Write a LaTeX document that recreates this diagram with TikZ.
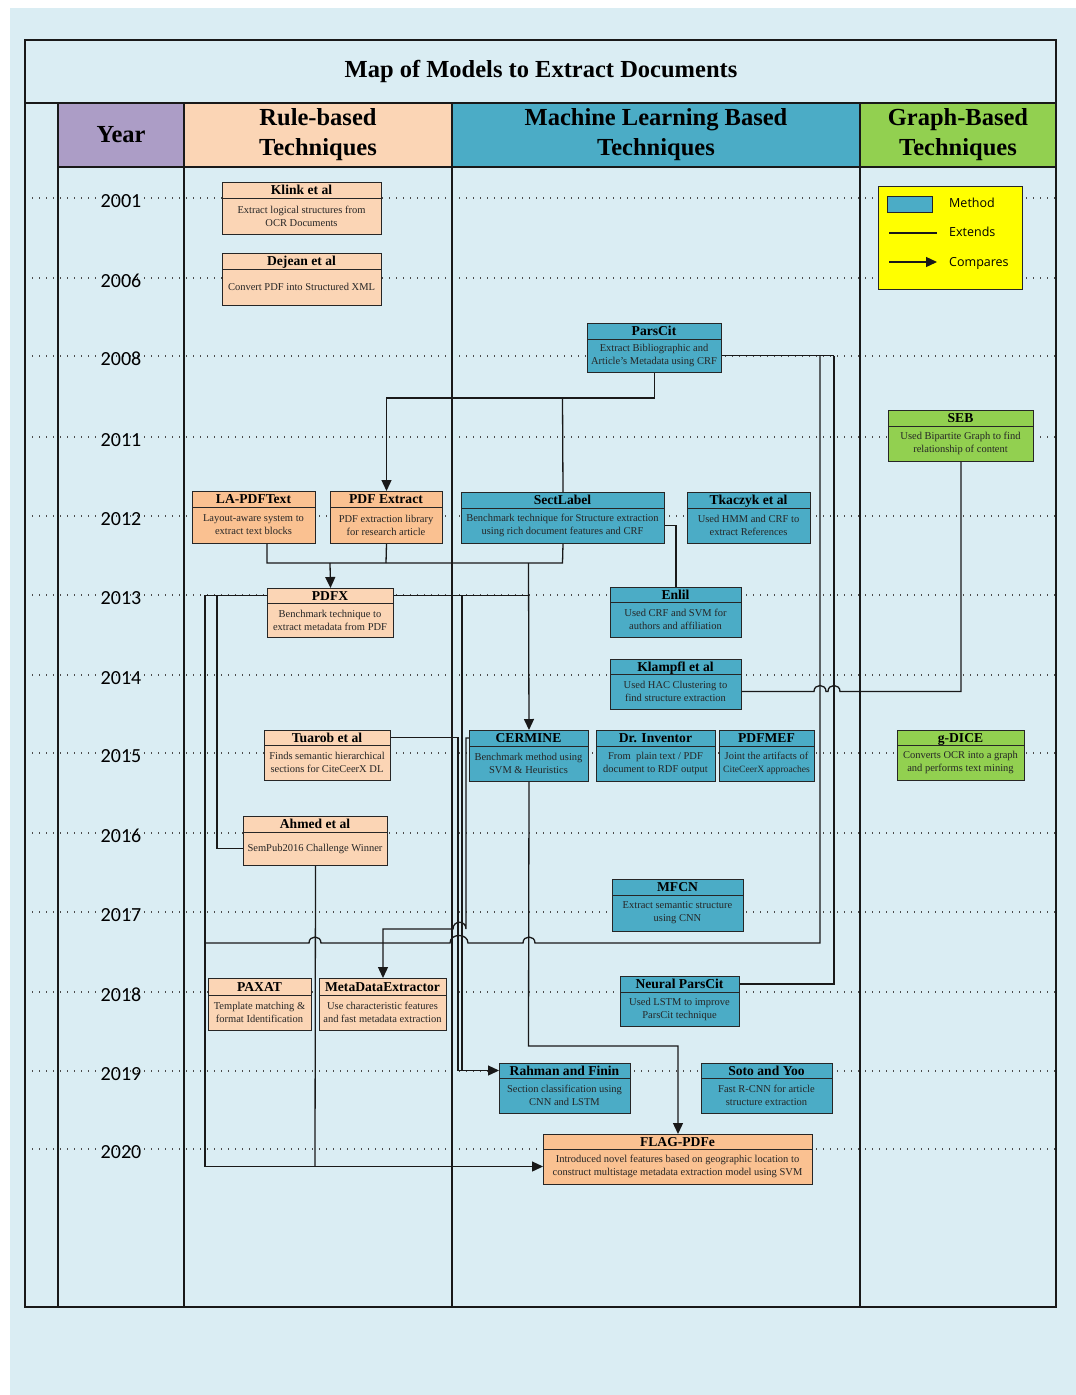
\documentclass[tikz,border=0pt]{standalone}
\usepackage{fontspec}
\setmainfont{Liberation Serif}
\newfontfamily\yearfont{Carlito}
\newfontfamily\legendfont{Open Sans}
\usetikzlibrary{arrows.meta}

\definecolor{bgblue}{HTML}{DAEDF3}
\definecolor{peachlight}{HTML}{FBD5B5}
\definecolor{peachdark}{HTML}{FAC191}
\definecolor{mlteal}{HTML}{4BACC6}
\definecolor{grgreen}{HTML}{92D050}
\definecolor{yearpurple}{HTML}{AC9DC6}
\definecolor{legyellow}{HTML}{FFFF00}

\tikzset{
  x=1pt, y=-1pt,
  frameline/.style={line width=1.4pt, draw=black!90},
  yeardots/.style={line width=1.2pt, draw=black!70, dash pattern=on 1.2pt off 5.8pt},
  methodbox/.style={draw=black!85, line width=1pt, inner sep=0pt, anchor=north west},
  boxtitle/.style={font=\fontsize{13.6}{15}\selectfont\bfseries, inner sep=0pt,
    text height=9pt, text depth=0pt, text=black},
  boxbody/.style={font=\fontsize{10.5}{13}\selectfont, align=center, inner sep=0pt, text=black!85},
  headtext/.style={font=\fontsize{24.5}{30}\selectfont\bfseries, align=center, inner sep=0pt, text=black},
  yeartext/.style={font=\yearfont\fontsize{20}{20}\selectfont, inner sep=0pt,
    text height=13pt, text depth=0pt, text=black},
  legtext/.style={font=\legendfont\fontsize{12.5}{14}\selectfont, inner sep=0pt, anchor=west,
    text height=9pt, text depth=0pt},
  conn/.style={line width=1.3pt, draw=black!90},
  arr/.style={-{Triangle[length=11pt,width=10pt]}},
}

% #1 name, #2 left, #3 right, #4 top, #5 header bottom, #6 bottom, #7 fill, #8 title, #9 description
\newcommand\techbox[9]{%
  \node[methodbox, fill=#7, minimum width={(#3)-(#2)}, minimum height={(#6)-(#4)}] (#1) at (#2,#4) {};
  \draw[draw=black!85, line width=1pt] (#2,#5) -- (#3,#5);
  \node[boxtitle] (#1t) at ({(#2+#3)/2},{(#4+#5)/2}) {#8};
  \node[boxbody] (#1b) at ({(#2+#3)/2},{(#5+#6)/2}) {#9};
}

\begin{document}
\begin{tikzpicture}
\useasboundingbox (0,0) rectangle (1076,1395);
\fill[white] (0,0) rectangle (1076,1395);
\fill[bgblue] (10,8) rectangle (1076,1395);

% year guide lines
\foreach \yy in {198,278,356,437,516,595,675,753,833,912,992,1071,1149}
  \draw[yeardots] (25,\yy) -- (1056,\yy);

% header cells
\fill[yearpurple] (58,103) rectangle (184,167);
\fill[peachlight] (184,103) rectangle (452,167);
\fill[mlteal] (452,103) rectangle (860,167);
\fill[grgreen] (860,103) rectangle (1056,167);

% table frame
\draw[frameline] (25,40) rectangle (1056,1307);
\draw[frameline] (25,103) -- (1056,103);
\draw[frameline] (58,167) -- (1056,167);
\foreach \xx in {58,184,452,860}
  \draw[frameline] (\xx,103) -- (\xx,1307);

\node[headtext] (title) at (541,71) {Map of Models to Extract Documents};
\node[headtext] (hyear) at (121,135) {Year};
\node[headtext] (hrule) at (318,135) {Rule-based\\Techniques};
\node[headtext] (hml) at (656,135) {Machine Learning Based\\Techniques};
\node[headtext] (hgraph) at (958,135) {Graph-Based\\Techniques};

% years
\foreach \yr/\yy in {2001/198,2006/278,2008/356,2011/437,2012/516,2013/595,2014/675,2015/753,2016/833,2017/912,2018/992,2019/1071,2020/1149}
  \node[yeartext] (y\yr) at (121,\yy+3) {\yr};

% legend
\node[draw=black!85, line width=1.2pt, fill=legyellow, minimum width=144pt, minimum height=103pt,
  anchor=north west, inner sep=0pt] (legend) at (878,186) {};
\node[draw=black!85, line width=1pt, fill=mlteal, minimum width=45pt, minimum height=16pt,
  anchor=north west, inner sep=0pt] (legm) at (887,196) {};
\node[legtext] (legmt) at (949,203) {Method};
\node[legtext] (leget) at (949,232) {Extends};
\node[legtext] (legct) at (949,262) {Compares};
\coordinate (lege1) at (889,233);
\coordinate (lege2) at (937,233);
\coordinate (legc1) at (889,262);
\coordinate (legc2) at (937,262);
\draw[conn] (lege1) -- (lege2);
\draw[conn, arr] (legc1) -- (legc2);

% methods
\techbox{Klink}{222}{381}{182}{198}{234}{peachlight}{Klink et al}{Extract logical structures from\\OCR Documents}
\techbox{Dejean}{222}{381}{253}{269}{305}{peachlight}{Dejean et al}{Convert PDF into Structured XML}
\techbox{ParsCit}{587}{721}{323}{339}{372}{mlteal}{ParsCit}{Extract Bibliographic and\\Article’s Metadata using CRF}
\techbox{SEB}{888}{1033}{410}{426}{461}{grgreen}{SEB}{Used Bipartite Graph to find\\relationship of content}
\techbox{LAPDF}{192}{315}{491}{507}{543}{peachdark}{LA-PDFText}{Layout-aware system to\\extract text blocks}
\techbox{PDFExtract}{330}{442}{491}{507}{543}{peachdark}{PDF Extract}{PDF extraction library\\for research article}
\techbox{SectLabel}{461}{664}{492}{508}{543}{mlteal}{SectLabel}{Benchmark technique for Structure extraction\\using rich document features and CRF}
\techbox{Tkaczyk}{687}{810}{492}{508}{543}{mlteal}{Tkaczyk et al}{Used HMM and CRF to\\extract References}
\techbox{PDFX}{267}{393}{588}{603}{637}{peachlight}{PDFX}{Benchmark technique to\\extract metadata from PDF}
\techbox{Enlil}{610}{741}{587}{602}{637}{mlteal}{Enlil}{Used CRF and SVM for\\authors and affiliation}
\techbox{Klampfl}{610}{741}{659}{674}{709}{mlteal}{Klampfl et al}{Used HAC Clustering to\\find structure extraction}
\techbox{Tuarob}{264}{390}{730}{745}{780}{peachlight}{Tuarob et al}{Finds semantic hierarchical\\sections for CiteCeerX DL}
\techbox{CERMINE}{469}{588}{730}{746}{781}{mlteal}{CERMINE}{Benchmark method using\\SVM \& Heuristics}
\techbox{DrInventor}{596}{715}{730}{746}{781}{mlteal}{Dr. Inventor}{From\ \ plain text / PDF\\document to RDF output}
\techbox{PDFMEF}{719}{814}{730}{746}{781}{mlteal}{PDFMEF}{Joint the artifacts of\\{\fontsize{9.6}{11}\selectfont CiteCeerX approaches}}
\techbox{gDICE}{897}{1024}{730}{745}{780}{grgreen}{g-DICE}{Converts OCR into a graph\\and performs text mining}
\techbox{Ahmed}{243}{387}{816}{832}{865}{peachlight}{Ahmed et al}{SemPub2016 Challenge Winner}
\techbox{MFCN}{612}{743}{879}{895}{931}{mlteal}{MFCN}{Extract semantic structure\\using CNN}
\techbox{PAXAT}{208}{311}{978}{995}{1030}{peachlight}{PAXAT}{Template matching \&\\format Identification}
\techbox{MDE}{319}{446}{978}{995}{1030}{peachlight}{MetaDataExtractor}{Use characteristic features\\and fast metadata extraction}
\techbox{NParsCit}{620}{739}{976}{992}{1026}{mlteal}{Neural ParsCit}{Used LSTM to improve\\ParsCit technique}
\techbox{Rahman}{499}{630}{1063}{1078}{1113}{mlteal}{Rahman and Finin}{Section classification using\\CNN and LSTM}
\techbox{Soto}{701}{832}{1063}{1078}{1113}{mlteal}{Soto and Yoo}{Fast R-CNN for article\\structure extraction}
\techbox{FLAG}{543}{812}{1134}{1149}{1184}{peachdark}{FLAG-PDFe}{Introduced novel features based on geographic location to\\construct multistage metadata extraction model using SVM}

% relations
\draw[conn, arr] (ParsCit.south) -- ++(0,25) -| (PDFExtract.north);
\draw[conn] (SectLabel.north) -- (562.5,397);

\draw[conn] (LAPDF.south -| PDFX.west) |- (562.5,563) -- (SectLabel.south);
\draw[conn] (PDFExtract.south) -- (386,563);
\draw[conn, arr] (330,563) -- (PDFX.north);
\draw[conn, arr] (528.5,563) -- (CERMINE.north);

\draw[conn] (SectLabel.east |- SectLabelb) -| (Enlil.north);

\draw[conn] (PDFX.east |- PDFXt) -- (528.5,595.5);
\draw[conn] (462,595.5) -- (462,1070.5);
\draw[conn] (Tuarob.east |- Tuarobt) -- (458,737.5) -- (458,1070.5);
\draw[conn, arr] (458,1070.5) -- (Rahman.west |- Rahmant);

\draw[conn, arr] (CERMINE.west |- CERMINEt) -- (466,738) -- (466,929)
  .. controls (466,920) and (453,920) .. (453,929) -| (MDE.north);

\draw[conn] (PDFX.west |- PDFXt) -- (205,595.5) -- (205,1166.5) -- (315,1166.5);
\draw[conn] (217,595.5) |- (Ahmed.west |- Ahmedb);
\draw[conn] (Ahmed.south) -- (315,1166.5);
\draw[conn, arr] (315,1166.5) -- (FLAG.west |- FLAGb);

\draw[conn] (ParsCit.east |- ParsCitb) -- (834,355.5);
\draw[conn] (820,355.5) -- (820,943) -- (535,943)
  .. controls (535,935) and (523,935) .. (523,943) -- (468,943)
  .. controls (468,933) and (450,933) .. (450,943) -- (321,943)
  .. controls (321,935) and (309,935) .. (309,943) -- (205,943);
\draw[conn] (834,355.5) |- (NParsCit.east |- NParsCitt);

\draw[conn, arr] (CERMINE.south) -- (528.5,1046) -| (FLAG.north);

\draw[conn] (Klampfl.east |- Klampflb) -- (814,691.5)
  .. controls (814,683.5) and (826,683.5) .. (826,691.5) -- (828,691.5)
  .. controls (828,683.5) and (840,683.5) .. (840,691.5) -| (SEB.south);
\end{tikzpicture}
\end{document}
